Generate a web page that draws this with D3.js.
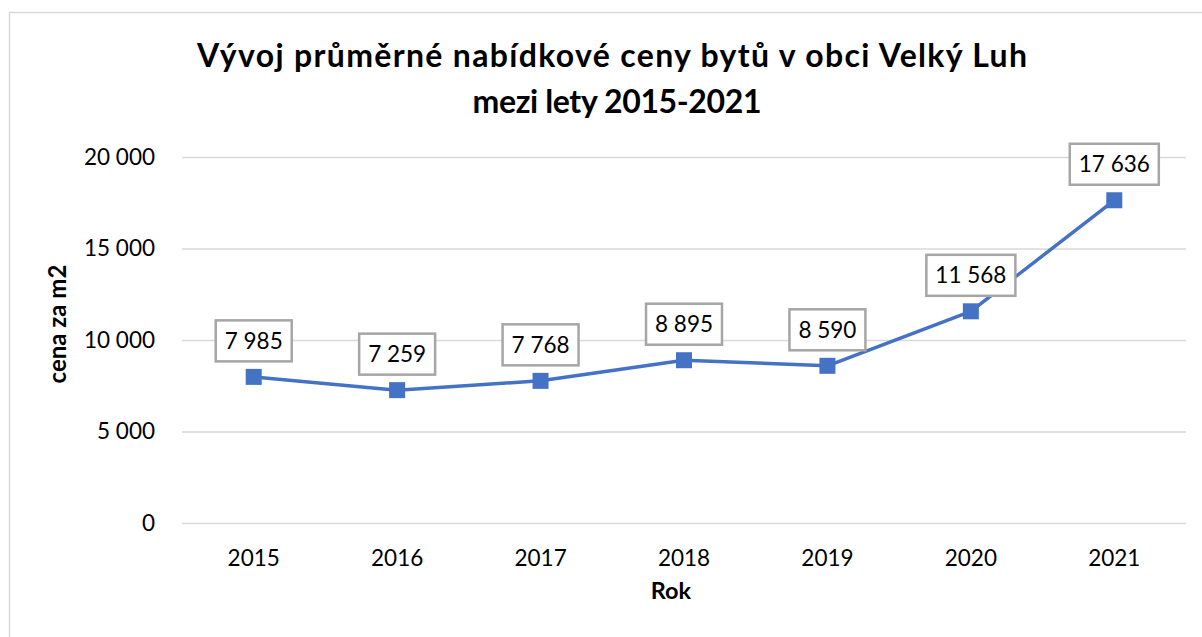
<!DOCTYPE html>
<html lang="cs">
<head>
<meta charset="utf-8">
<script src="https://cdn.jsdelivr.net/npm/d3@7"></script>
<style>
  body { margin: 0; background: #fff; }
  svg { display: block; font-family: Lato, "Open Sans", sans-serif; }
</style>
</head>
<body>
<div id="chart"></div>
<script>
// Average offer price of flats in Velký Luh, 2015-2021

const years = ["2015", "2016", "2017", "2018", "2019", "2020", "2021"];
const prices = [7985, 7259, 7768, 8895, 8590, 11568, 17636];
const yTicks = [0, 5000, 10000, 15000, 20000];

const titleLines = [
    "Vývoj průměrné nabídkové ceny bytů v obci Velký Luh",
    "mezi lety 2015-2021"
];
const xTitle = "Rok";
const yTitle = "cena za m2";

// ---------- Basic chart setup ----------

const width = 1202;
const height = 637;

const plot = { left: 182, right: 1186, top: 157, bottom: 523 };

const lineColor = "#4472C4";
const gridColor = "#d9d9d9";

// Czech style numbers: space between thousands
const czFormat = d3.formatLocale({
    decimal: ",",
    thousands: " ",
    grouping: [3],
    currency: ["", " Kč"]
}).format(",d");

const svg = d3.select("#chart")
    .append("svg")
    .attr("width", width)
    .attr("height", height);

// chart frame (runs off the right and bottom edge like in the screenshot)
svg.append("rect")
    .attr("x", 9.5)
    .attr("y", 12.5)
    .attr("width", width + 20)
    .attr("height", height + 20)
    .attr("fill", "#fff")
    .attr("stroke", gridColor)
    .attr("stroke-width", 1.5);

const xScale = d3.scaleBand()
    .domain(years)
    .range([plot.left, plot.right]);

const yScale = d3.scaleLinear()
    .domain([0, 20000])
    .range([plot.bottom, plot.top]);

// ---------- Title ----------

// keep each line at the width it has in the screenshot
const titleWidths = [830, 289];

svg.append("text")
    .attr("text-anchor", "middle")
    .attr("font-weight", "bold")
    .attr("font-size", 32)
    .attr("fill", "#000")
    .selectAll("tspan")
    .data(titleLines)
    .join("tspan")
    .attr("x", (d, i) => i === 0 ? 612 : 617)
    .attr("y", (d, i) => 67 + i * 46)
    .attr("textLength", (d, i) => titleWidths[i])
    .attr("lengthAdjust", "spacing")
    .text(d => d);

// ---------- Axes ----------

const yAxis = d3.axisLeft(yScale)
    .tickValues(yTicks)
    .tickSize(-(plot.right - plot.left))
    .tickPadding(27)
    .tickFormat(czFormat);

svg.append("g")
    .attr("transform", `translate(${plot.left}, 0)`)
    .call(yAxis)
    .call(g => g.select(".domain").remove())
    .call(g => g.selectAll(".tick line")
        .attr("stroke", gridColor)
        .attr("stroke-width", 1.5))
    .call(g => g.selectAll(".tick text")
        .attr("font-size", 22.5)
        .attr("font-family", "Lato, sans-serif")
        .attr("fill", "#000"));

const xAxis = d3.axisBottom(xScale)
    .tickSize(0)
    .tickPadding(0);

svg.append("g")
    .attr("transform", `translate(0, ${plot.bottom})`)
    .call(xAxis)
    .call(g => g.select(".domain").remove())
    .call(g => g.selectAll(".tick text")
        .attr("dy", null)
        .attr("y", 566 - plot.bottom)
        .attr("font-size", 22.5)
        .attr("font-family", "Lato, sans-serif")
        .attr("fill", "#000"));

// axis titles
svg.append("text")
    .attr("x", 671)
    .attr("y", 599)
    .attr("text-anchor", "middle")
    .attr("font-weight", "bold")
    .attr("font-size", 23.5)
    .text(xTitle);

svg.append("text")
    .attr("transform", "translate(66, 324) rotate(-90)")
    .attr("text-anchor", "middle")
    .attr("font-weight", "bold")
    .attr("font-size", 24)
    .text(yTitle);

// ---------- Line and markers ----------

const points = years.map((year, i) => ({ year: year, value: prices[i] }));
const cx = d => xScale(d.year) + xScale.bandwidth() / 2;

const lineGenerator = d3.line()
    .x(cx)
    .y(d => yScale(d.value));

svg.append("path")
    .datum(points)
    .attr("fill", "none")
    .attr("stroke", lineColor)
    .attr("stroke-width", 3.5)
    .attr("stroke-linejoin", "round")
    .attr("d", lineGenerator);

const markerSize = 16;

svg.append("g")
    .selectAll("rect")
    .data(points)
    .join("rect")
    .attr("x", d => cx(d) - markerSize / 2)
    .attr("y", d => yScale(d.value) - markerSize / 2)
    .attr("width", markerSize)
    .attr("height", markerSize)
    .attr("fill", lineColor);

// ---------- Data labels in boxes ----------

const labelGroups = svg.append("g")
    .selectAll("g")
    .data(points)
    .join("g")
    .attr("transform", d => `translate(${cx(d)}, ${yScale(d.value) - 36})`);

labelGroups.append("rect")
    .attr("fill", "#fff")
    .attr("stroke", "#a6a6a6")
    .attr("stroke-width", 2.5);

const labelTexts = labelGroups.append("text")
    .attr("text-anchor", "middle")
    .attr("dy", "0.35em")
    .attr("font-size", 22.5)
    .attr("fill", "#000")
    .text(d => czFormat(d.value));

// size each box from its text
labelTexts.each(function () {
    const w = this.getComputedTextLength() + 18;
    d3.select(this.parentNode).select("rect")
        .attr("x", -w / 2)
        .attr("y", -20.5)
        .attr("width", w)
        .attr("height", 41);
});
</script>
</body>
</html>
